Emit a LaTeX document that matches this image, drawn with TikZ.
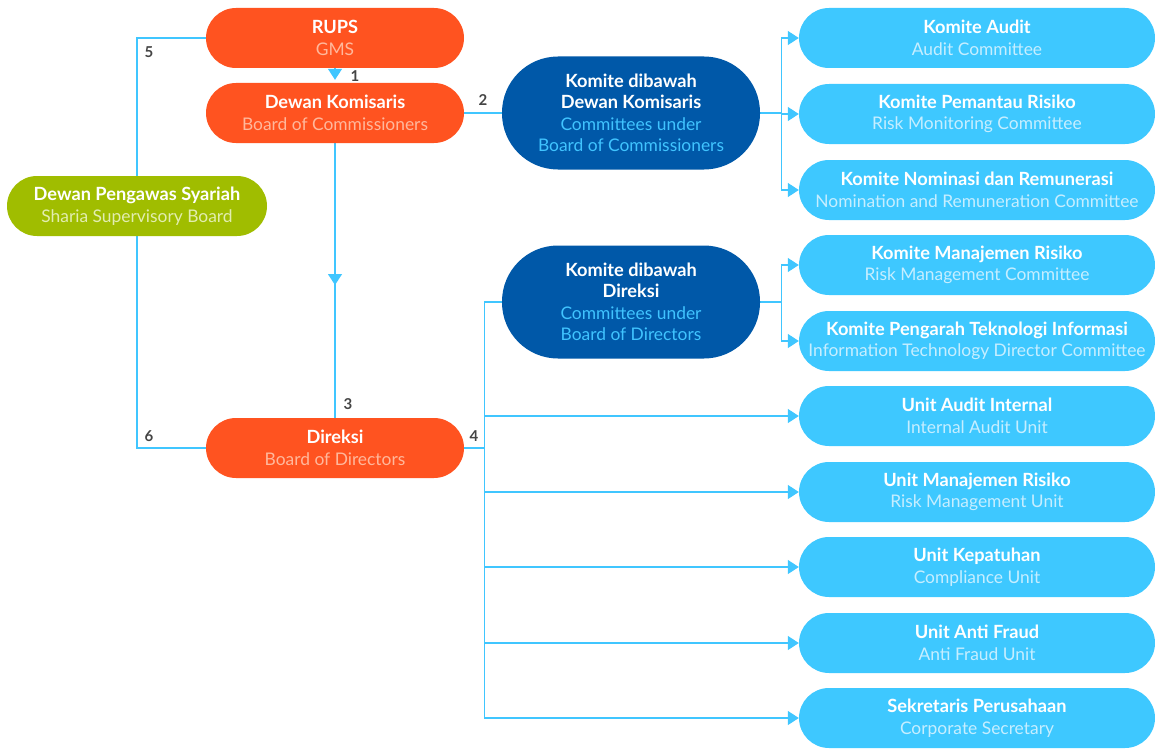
\documentclass[tikz,border=0pt]{standalone}
\usepackage{fontspec}
\setmainfont{Lato}
\usepackage{tikz}
\usetikzlibrary{arrows.meta}
\usetikzlibrary{backgrounds}

\definecolor{rupsorange}{HTML}{FF5320}
\definecolor{orangesub}{HTML}{FFB89C}
\definecolor{syariahgreen}{HTML}{A0BD00}
\definecolor{greensub}{HTML}{E2EDB0}
\definecolor{komblue}{HTML}{0058A8}
\definecolor{komsub}{HTML}{40C4FF}
\definecolor{unitblue}{HTML}{3EC8FF}
\definecolor{unitsub}{HTML}{C6EEFF}
\definecolor{linkblue}{HTML}{40C6FF}
\definecolor{numgray}{HTML}{444444}

\newcommand{\hd}[1]{{\fontsize{18.2}{21.5}\selectfont\bfseries #1}}

\tikzset{
    pill/.style={rounded corners=30pt, minimum height=60pt, minimum width=258pt,
        inner sep=0pt, align=center, text=white, font=\fontsize{17.4}{21.5}\selectfont},
    orangebox/.style={pill, fill=rupsorange},
    greenbox/.style={pill, fill=syariahgreen, minimum width=260pt},
    kombox/.style={pill, fill=komblue, rounded corners=56pt, minimum height=113pt},
    unitbox/.style={pill, fill=unitblue, minimum width=356pt},
    link/.style={draw=linkblue, line width=1.3pt},
    tip/.style={-{Triangle[length=11pt,width=14pt]}},
    num/.style={text=numgray, font=\fontsize{15}{15}\selectfont\bfseries, inner sep=0pt}
}

\begin{document}
\begin{tikzpicture}[x=1pt,y=-1pt]

\useasboundingbox (0,0) rectangle (1155,749);

% left column
\node[orangebox] (rups) at (335,38) {\hd{RUPS}\\{\color{orangesub}GMS}};
\node[orangebox] (dk) at (335,113) {\hd{Dewan Komisaris}\\{\color{orangesub}Board of Commissioners}};
\node[orangebox] (direksi) at (335,448) {\hd{Direksi}\\{\color{orangesub}Board of Directors}};
\node[greenbox] (syariah) at (137,206) {\hd{Dewan Pengawas Syariah}\\{\color{greensub}Sharia Supervisory Board}};

% committees
\node[kombox] (komdk) at (631,113) {\hd{Komite dibawah}\\\hd{Dewan Komisaris}\\{\color{komsub}Committees under}\\{\color{komsub}Board of Commissioners}};
\node[kombox] (komdir) at (631,302) {\hd{Komite dibawah}\\\hd{Direksi}\\{\color{komsub}Committees under}\\{\color{komsub}Board of Directors}};

% right column
\node[unitbox] (ka) at (977,38) {\hd{Komite Audit}\\{\color{unitsub}Audit Committee}};
\node[unitbox] (kpr) at (977,114) {\hd{Komite Pemantau Risiko}\\{\color{unitsub}Risk Monitoring Committee}};
\node[unitbox] (knr) at (977,190) {\hd{Komite Nominasi dan Remunerasi}\\{\color{unitsub}Nomination and Remuneration Committee}};
\node[unitbox] (kmr) at (977,265) {\hd{Komite Manajemen Risiko}\\{\color{unitsub}Risk Management Committee}};
\node[unitbox] (kpti) at (977,341) {\hd{Komite Pengarah Teknologi Informasi}\\{\color{unitsub}Information Technology Director Committee}};
\node[unitbox] (uai) at (977,416) {\hd{Unit Audit Internal}\\{\color{unitsub}Internal Audit Unit}};
\node[unitbox] (umr) at (977,492) {\hd{Unit Manajemen Risiko}\\{\color{unitsub}Risk Management Unit}};
\node[unitbox] (uk) at (977,567) {\hd{Unit Kepatuhan}\\{\color{unitsub}Compliance Unit}};
\node[unitbox] (uaf) at (977,643) {\hd{Unit Anti Fraud}\\{\color{unitsub}Anti Fraud Unit}};
\node[unitbox] (sp) at (977,718) {\hd{Sekretaris Perusahaan}\\{\color{unitsub}Corporate Secretary}};

% connectors
\begin{scope}[on background layer]
    \draw[link] (rups.west) -| (syariah.north);
    \draw[link] (syariah.south) |- (direksi.west);
    \draw[link, tip, shorten >=3pt] (rups.south) -- (dk.north);
    \coordinate (mid3) at (335,285);
    \draw[link] (dk.south) -- (direksi.north);
    \draw[link, tip] (dk.south) -- (mid3);
    \draw[link] (dk.east) -- (komdk.west);

    \draw[link] (komdk.east) -- ++(21,0) coordinate (dkbus);
    \foreach \k in {ka,kpr,knr}
        \draw[link, tip] (dkbus) |- (\k.west);

    \draw[link] (direksi.east) -- ++(20,0) coordinate (dirbus);
    \draw[link] (dirbus) |- (komdir.west);
    \foreach \u in {uai,umr,uk,uaf,sp}
        \draw[link, tip] (dirbus) |- (\u.west);

    \draw[link] (komdir.east) -- ++(21,0) coordinate (dirkbus);
    \foreach \k in {kmr,kpti}
        \draw[link, tip] (dirkbus) |- (\k.west);
\end{scope}

% numbers
\node[num] (n1) at (355,76) {1};
\node[num] (n2) at (483,100) {2};
\node[num] (n3) at (348,404) {3};
\node[num] (n4) at (474,436) {4};
\node[num] (n5) at (149,52) {5};
\node[num] (n6) at (149,436) {6};

\end{tikzpicture}
\end{document}
